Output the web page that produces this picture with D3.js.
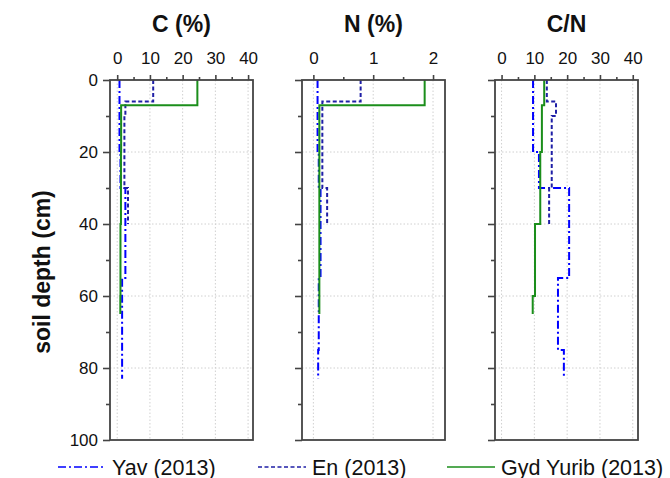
<!DOCTYPE html>
<html>
<head>
<meta charset="utf-8">
<script src="https://cdn.jsdelivr.net/npm/d3@7"></script>
<style>
  body { margin: 0; background: #fff; }
  svg { font-family: "Liberation Sans", Arial, sans-serif; }
</style>
</head>
<body>
<div class="chart-area"></div>
<script>
// layer boundaries (cm) and values per site
var yavDepth = [0, 20, 30, 55, 75, 83];
var yavC = [0.7, 1.0, 2.5, 1.5, 1.5];
var yavN = [0.07, 0.09, 0.12, 0.09, 0.08];
var yavCN = [9.6, 11.4, 20.6, 17.2, 19.0];

var enDepth = [0, 6, 10, 30, 40];
var enC = [11.0, 2.5, 2.2, 3.3];
var enN = [0.79, 0.15, 0.15, 0.23];
var enCN = [13.8, 16.6, 15.3, 14.5];

var gydDepth = [0, 7, 20, 40, 60, 65];
var gydC = [24.5, 1.2, 1.15, 1.0, 0.95];
var gydN = [1.86, 0.1, 0.1, 0.1, 0.1];
var gydCN = [13.0, 12.3, 11.8, 10.2, 9.5];

var titles = ["C (%)", "N (%)", "C/N"];
var xDomains = [[-2.2, 41.5], [-0.19, 2.2], [-2.0, 41.6]];
var xTicks = [[0, 10, 20, 30, 40], [0, 1, 2], [0, 10, 20, 30, 40]];
var xMinor = [[5, 15, 25, 35], [0.5, 1.5], [5, 15, 25, 35]];
var depthTicks = [0, 20, 40, 60, 80, 100];
var depthMinor = [10, 30, 50, 70, 90];
var legendNames = ["Yav (2013)", "En (2013)", "Gyd Yurib (2013)"];

var series = [
    { name: legendNames[0], depth: yavDepth, vals: [yavC, yavN, yavCN], color: "#0000ff", dash: "8,3,2,3" },
    { name: legendNames[1], depth: enDepth, vals: [enC, enN, enCN], color: "#1f1fa6", dash: "4,2.5" },
    { name: legendNames[2], depth: gydDepth, vals: [gydC, gydN, gydCN], color: "#1b8e1b", dash: null }
];

var panelLeft = [110, 302, 495];
var panelWidth = 143;
var plotTop = 80, plotBottom = 440;
var axisColor = "#444";

var svg = d3.select(".chart-area")
    .append("svg")
    .attr("width", 670)
    .attr("height", 478);

var y = d3.scaleLinear().domain([0, 100]).range([plotTop, plotBottom]);

function stepPoints(depth, vals) {
    var pts = [];
    for (var i = 0; i < vals.length; i++) {
        pts.push([vals[i], depth[i]]);
        pts.push([vals[i], depth[i + 1]]);
    }
    return pts;
}

titles.forEach(function (title, p) {
    var x = d3.scaleLinear().domain(xDomains[p]).range([panelLeft[p], panelLeft[p] + panelWidth]);
    var g = svg.append("g");

    // grid
    g.selectAll(".vg").data(xTicks[p])
        .enter().append("line")
        .attr("x1", function (d) { return x(d); }).attr("x2", function (d) { return x(d); })
        .attr("y1", plotTop).attr("y2", plotBottom)
        .attr("stroke", "#d0d0d0").attr("stroke-dasharray", "1.5,2").attr("stroke-width", 1);
    g.selectAll(".hg").data([20, 40, 60, 80])
        .enter().append("line")
        .attr("x1", panelLeft[p]).attr("x2", panelLeft[p] + panelWidth)
        .attr("y1", function (d) { return y(d); }).attr("y2", function (d) { return y(d); })
        .attr("stroke", "#d0d0d0").attr("stroke-dasharray", "1.5,2").attr("stroke-width", 1);

    // data lines
    var line = d3.line()
        .x(function (d) { return x(d[0]); })
        .y(function (d) { return y(d[1]); });
    series.forEach(function (s) {
        g.append("path")
            .attr("d", line(stepPoints(s.depth, s.vals[p])))
            .attr("fill", "none")
            .attr("stroke", s.color)
            .attr("stroke-width", 2)
            .attr("stroke-dasharray", s.dash);
    });

    // frame
    g.append("rect")
        .attr("x", panelLeft[p]).attr("y", plotTop)
        .attr("width", panelWidth).attr("height", plotBottom - plotTop)
        .attr("fill", "none").attr("stroke", axisColor).attr("stroke-width", 1.8);

    // top axis
    var topAxis = d3.axisTop(x).tickValues(xTicks[p]).tickSize(5).tickPadding(11)
        .tickFormat(d3.format("d"));
    var ta = g.append("g").attr("transform", "translate(0," + plotTop + ")").call(topAxis);
    ta.select(".domain").remove();
    ta.selectAll("line").attr("stroke", axisColor).attr("stroke-width", 1.6);
    ta.selectAll("text").attr("font-size", 17).attr("fill", "#111");
    var tm = g.append("g").attr("transform", "translate(0," + plotTop + ")")
        .call(d3.axisTop(x).tickValues(xMinor[p]).tickSize(3).tickFormat(""));
    tm.select(".domain").remove();
    tm.selectAll("line").attr("stroke", axisColor).attr("stroke-width", 1.6);

    // left axis
    var leftAxis = d3.axisLeft(y).tickValues(depthTicks).tickSize(7).tickPadding(5)
        .tickFormat(p === 0 ? d3.format("d") : "");
    var la = g.append("g").attr("transform", "translate(" + panelLeft[p] + ",0)").call(leftAxis);
    la.select(".domain").remove();
    la.selectAll("line").attr("stroke", axisColor).attr("stroke-width", 1.6);
    la.selectAll("text").attr("font-size", 17).attr("fill", "#111");
    var lm = g.append("g").attr("transform", "translate(" + panelLeft[p] + ",0)")
        .call(d3.axisLeft(y).tickValues(depthMinor).tickSize(4).tickFormat(""));
    lm.select(".domain").remove();
    lm.selectAll("line").attr("stroke", axisColor).attr("stroke-width", 1.6);

    // title
    g.append("text")
        .attr("x", panelLeft[p] + panelWidth / 2).attr("y", 32)
        .attr("text-anchor", "middle")
        .attr("font-size", 23).attr("font-weight", "bold").attr("fill", "#111")
        .text(title);
});

// y label
svg.append("text")
    .attr("transform", "translate(50,272) rotate(-90)")
    .attr("text-anchor", "middle")
    .attr("font-size", 23).attr("font-weight", "bold").attr("fill", "#111")
    .text("soil depth (cm)");

// legend
var legendX = [58, 258, 447];
series.forEach(function (s, i) {
    var lg = svg.append("g").attr("transform", "translate(" + legendX[i] + ",467)");
    lg.append("line").attr("x1", 0).attr("x2", 48).attr("y1", 0).attr("y2", 0)
        .attr("stroke", s.color).attr("stroke-width", 1.6).attr("stroke-dasharray", s.dash);
    lg.append("text").attr("x", 54).attr("y", 7.5)
        .attr("font-size", 21.5).attr("fill", "#111")
        .text(s.name);
});
</script>
</body>
</html>
